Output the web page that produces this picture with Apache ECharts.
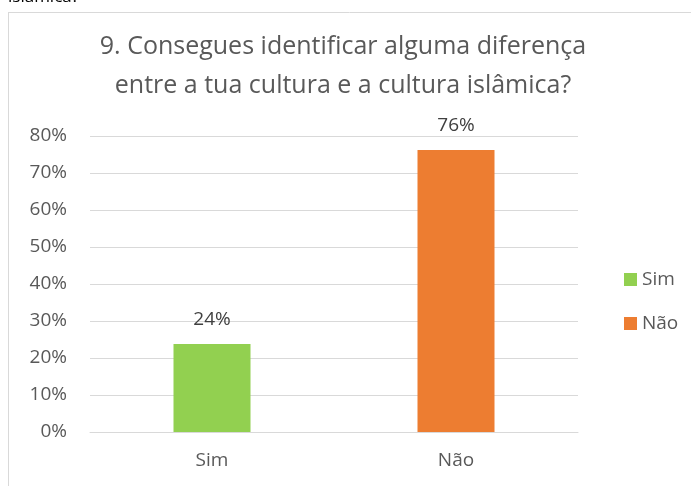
<!DOCTYPE html>
<html>
<head>
<meta charset="utf-8">
<script src="https://cdn.jsdelivr.net/npm/echarts@6/dist/echarts.min.js"></script>
<style>
  html, body { margin: 0; padding: 0; background: #fff; }
  #chart { width: 691px; height: 486px; }
</style>
</head>
<body>
<div id="chart"></div>
<script>
const categories = ['Sim', 'Não'];
const values = [23.8, 76.2];
const labels = ['24%', '76%'];
const colors = ['#92D050', '#ED7D31'];

const font = 'Open Sans';
const chart = echarts.init(document.getElementById('chart'));

// one series per category so the legend gets both entries
const series = categories.map((name, i) => ({
  name: name,
  type: 'bar',
  stack: 'all',
  barWidth: 77,
  itemStyle: { color: colors[i] },
  label: {
    show: true,
    position: 'top',
    distance: 15,
    fontFamily: font,
    fontSize: 19,
    color: '#404040',
    formatter: () => labels[i],
  },
  data: categories.map((c, j) => (j === i ? values[i] : '-')),
}));

chart.setOption({
  animation: false,
  title: {
    text: '9. Consegues identificar alguma diferença\nentre a tua cultura e a cultura islâmica?',
    left: 338,
    top: 22,
    textAlign: 'center',
    textStyle: {
      fontFamily: font,
      fontSize: 25,
      fontWeight: 'normal',
      color: '#595959',
      lineHeight: 39,
    },
  },
  legend: {
    orient: 'vertical',
    left: 619,
    top: 265,
    itemWidth: 13,
    itemHeight: 13,
    itemGap: 25,
    icon: 'rect',
    textStyle: { fontFamily: font, fontSize: 19, color: '#595959' },
    data: categories,
  },
  grid: { left: 90, right: 113, top: 136, bottom: 54 },
  xAxis: {
    type: 'category',
    data: categories,
    axisLine: { lineStyle: { color: '#D9D9D9', width: 1 } },
    axisTick: { show: false },
    axisLabel: { fontFamily: font, fontSize: 19, color: '#595959', margin: 19 },
  },
  yAxis: {
    type: 'value',
    min: 0,
    max: 80,
    interval: 10,
    axisLine: { show: false },
    axisTick: { show: false },
    splitLine: { lineStyle: { color: '#D9D9D9', width: 1 } },
    axisLabel: {
      fontFamily: font,
      fontSize: 19,
      color: '#595959',
      margin: 23,
      formatter: '{value}%',
    },
  },
  graphic: [
    // frame of the embedded chart and the cut-off line of text above it
    { type: 'line', shape: { x1: 8.5, y1: 12, x2: 8.5, y2: 486 }, style: { stroke: '#D9D9D9', lineWidth: 1 } },
    { type: 'line', shape: { x1: 8, y1: 12.5, x2: 691, y2: 12.5 }, style: { stroke: '#D9D9D9', lineWidth: 1 } },
    { type: 'text', left: 8, top: -11, style: { text: 'islâmica?', fontFamily: font, fontSize: 17, fill: '#000' } },
  ],
  series: series,
});
</script>
</body>
</html>
